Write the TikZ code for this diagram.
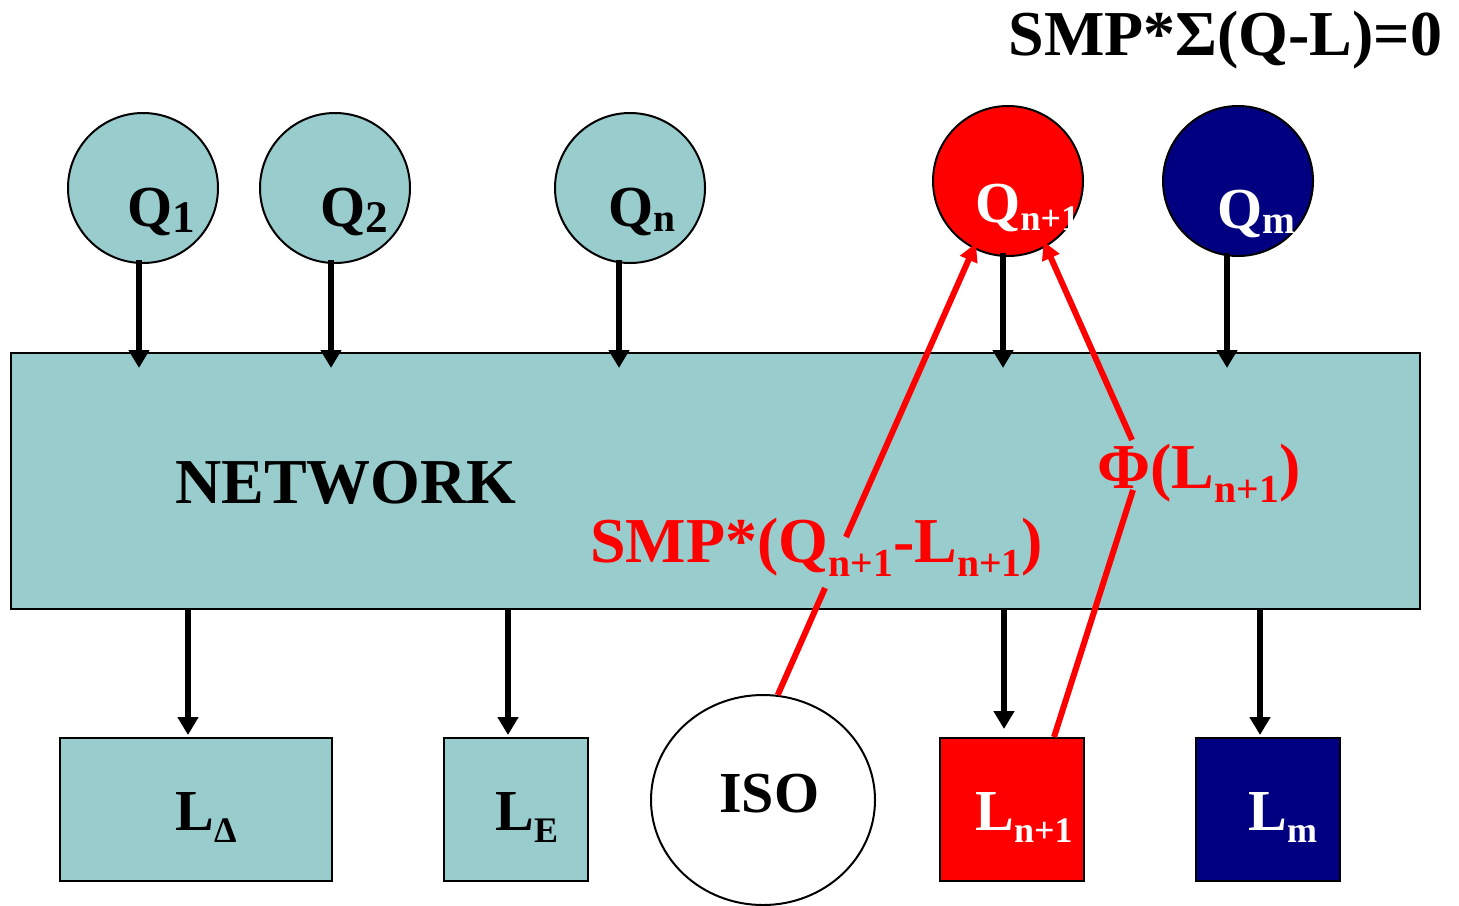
\documentclass[tikz,border=0pt]{standalone}
\usepackage{fontspec}
\setmainfont{Liberation Serif}
\usetikzlibrary{arrows.meta,shapes.geometric}
\definecolor{teal1}{HTML}{99CCCC}
\definecolor{navy1}{HTML}{000080}
\definecolor{red1}{HTML}{FF0000}
\newcommand\subA[1]{\raisebox{-0.1em}{\scalebox{0.68}{#1}}}
\newcommand\subC[1]{\raisebox{-0.12em}{\scalebox{0.78}{#1}}}
\newcommand\subB[1]{\raisebox{-0.22em}{\scalebox{0.62}{#1}}}
\begin{document}
\begin{tikzpicture}[x=0.5pt,y=-0.5pt,
  src/.style={circle,draw=black,line width=1pt,minimum size=75pt,inner sep=0pt},
  load/.style={rectangle,draw=black,line width=1pt,inner sep=0pt,anchor=north west},
  lbl/.style={anchor=base west,inner sep=0pt,font=\fontsize{29}{31}\selectfont\bfseries},
  big/.style={anchor=base west,inner sep=0pt,font=\fontsize{32}{36}\selectfont\bfseries},
  blk/.style={line width=2.8pt,-{Triangle[width=10pt,length=9pt]}},
  redl/.style={red1,line width=3pt},
  reda/.style={redl,-{Triangle[width=9pt,length=9pt]}}]
\useasboundingbox (0,0) rectangle (1459,905);

% network
\node[load,fill=teal1,minimum width=704.5pt,minimum height=128pt] (net) at (10,352) {};

% sources
\node[src,fill=teal1] (q1) at (143,188) {};
\node[src,fill=teal1] (q2) at (335,188) {};
\node[src,fill=teal1] (qn) at (630,188) {};
\node[src,fill=red1] (qn1) at (1008,181) {};
\node[src,fill=navy1] (qm) at (1238,181) {};

% loads
\node[load,fill=teal1,minimum width=136pt,minimum height=71.5pt] (ld) at (59,737) {};
\node[load,fill=teal1,minimum width=72pt,minimum height=71.5pt] (le) at (443,737) {};
\node[load,fill=red1,minimum width=72pt,minimum height=71.5pt] (ln1) at (939,737) {};
\node[load,fill=navy1,minimum width=72pt,minimum height=71.5pt] (lm) at (1195,737) {};
\node[ellipse,draw=black,line width=1pt,fill=white,minimum width=112pt,minimum height=105pt,inner sep=0pt] (iso) at (763,800) {};

% black arrows into network
\draw[blk] ([xshift=-2pt,yshift=2pt]q1.south) -- ([xshift=-2pt,yshift=-8pt]q1.south |- net.north);
\draw[blk] ([xshift=-2pt,yshift=2pt]q2.south) -- ([xshift=-2pt,yshift=-8pt]q2.south |- net.north);
\draw[blk] ([xshift=-5.5pt,yshift=2pt]qn.south) -- ([xshift=-5.5pt,yshift=-8pt]qn.south |- net.north);
\draw[blk] ([xshift=-2.5pt,yshift=2pt]qn1.south) -- ([xshift=-2.5pt,yshift=-8pt]qn1.south |- net.north);
\draw[blk] ([xshift=-5.5pt,yshift=2pt]qm.south) -- ([xshift=-5.5pt,yshift=-8pt]qm.south |- net.north);

% black arrows out of network
\draw[blk] ([xshift=-4pt]ld.north |- net.south) -- ([xshift=-4pt,yshift=1pt]ld.north);
\draw[blk] ([xshift=-4pt]le.north |- net.south) -- ([xshift=-4pt,yshift=1pt]le.north);
\draw[blk] ([xshift=-4pt]ln1.north |- net.south) -- ([xshift=-4pt,yshift=4pt]ln1.north);
\draw[blk] ([xshift=-4pt]lm.north |- net.south) -- ([xshift=-4pt,yshift=1pt]lm.north);

% red connectors
\coordinate (a1) at (825,588);
\coordinate (a2) at (846,537);
\coordinate (b1) at (1133,490);
\coordinate (b2) at (1132,440);
\draw[redl] (iso.82) -- (a1);
\draw[reda,shorten >=-3pt] (a2) -- (qn1.243);
\draw[redl] ([xshift=21pt]ln1.north) -- (b1);
\draw[reda,shorten >=-3pt] (b2) -- (qn1.300);

% labels
\node[lbl] (t1) at (127,226) {Q\subC{1}};
\node[lbl] (t2) at (320,226) {Q\subC{2}};
\node[lbl] (tn) at (608,226) {Q\subA{n}};
\node[lbl,white] (tn1) at (975,222) {Q\subB{\raisebox{0.12em}{n+1}}};
\node[lbl,white] (tm) at (1217,228) {Q\subA{m}};
\node[lbl] (tld) at (175,830) {L\subB{Δ}};
\node[lbl] (tle) at (495,830) {L\subB{E}};
\node[lbl,white] (tln1) at (975,830) {L\subB{n+1}};
\node[lbl,white] (tlm) at (1248,830) {L\subB{m}};
\node[lbl] (tiso) at (719,812) {ISO};
\node[big] (tnet) at (175,503) {NETWORK};
\node[big,text=red1] (tsmp) at (590,562) {SMP*(Q\subB{n+1}-L\subB{n+1})};
\node[big,text=red1] (tphi) at (1097,488) {Φ(L\subB{n+1})};
\node[big] (title) at (1008,55) {SMP*Σ(Q-L)=0};
\end{tikzpicture}
\end{document}
